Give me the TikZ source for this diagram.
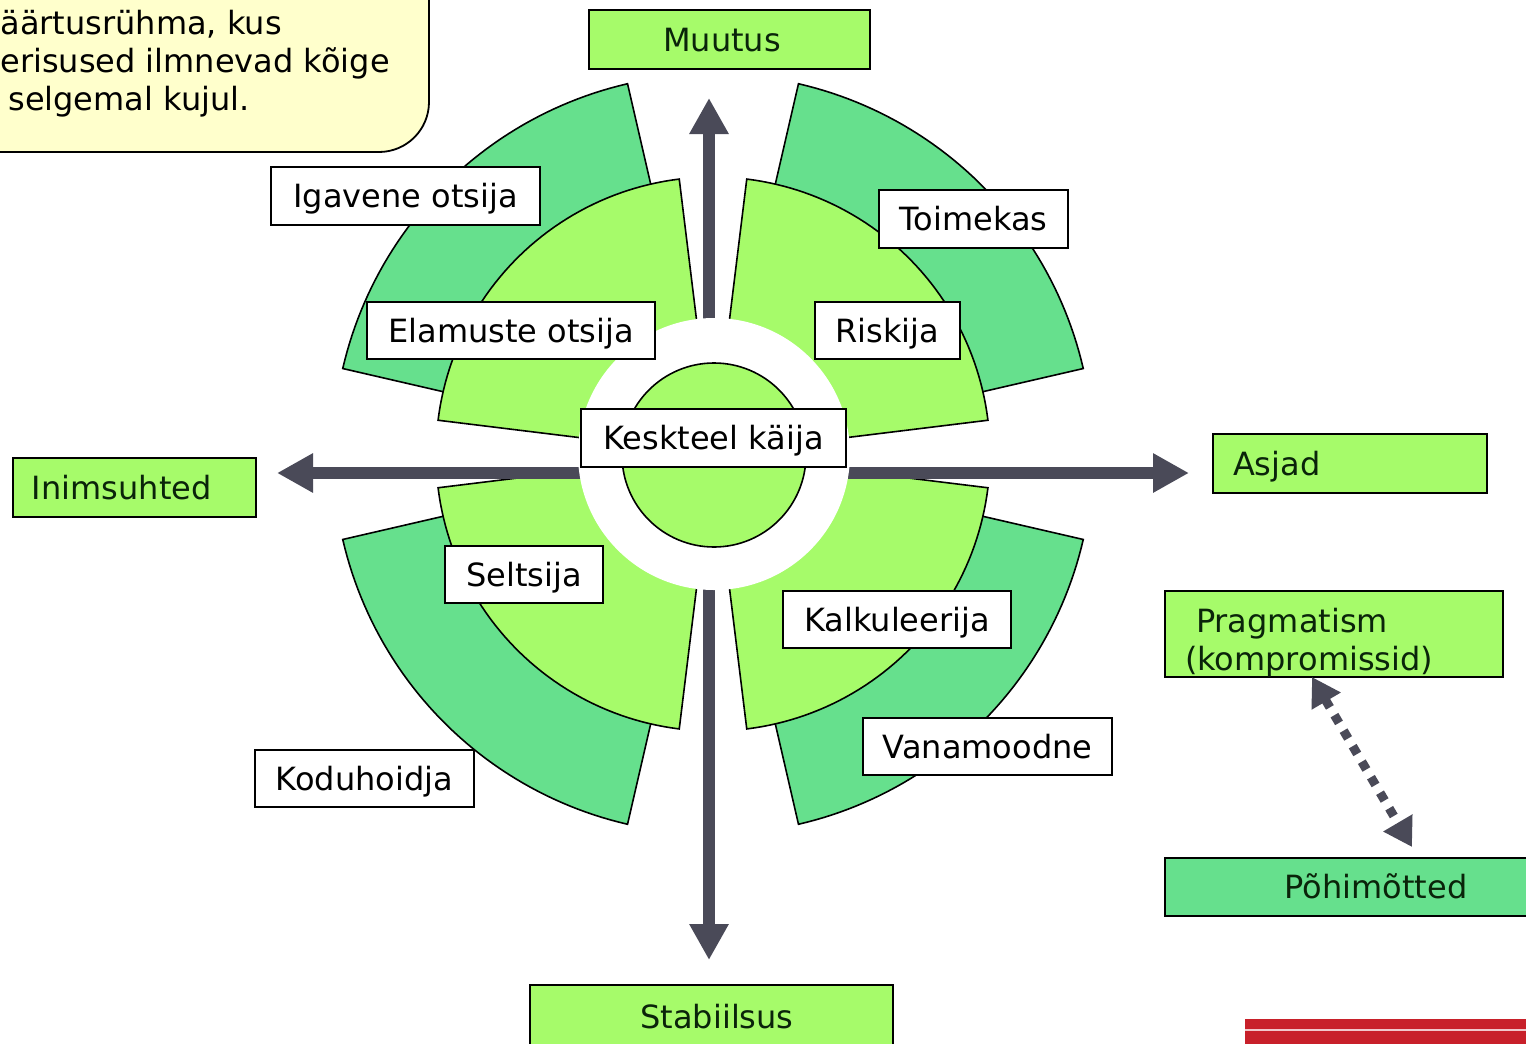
\documentclass[tikz,border=0pt]{standalone}
\usepackage{fontspec}
\setmainfont{DejaVu Sans}
\usetikzlibrary{arrows.meta}
\definecolor{lgreen}{RGB}{166,251,106}
\definecolor{dgreen}{RGB}{102,224,141}
\definecolor{cyellow}{RGB}{255,255,204}
\definecolor{agrey}{RGB}{74,74,88}
\definecolor{cred}{RGB}{200,32,42}
\definecolor{gtext}{RGB}{10,36,10}
\begin{document}
\begin{tikzpicture}[x=0.5pt,y=-0.5pt,
  font=\fontsize{16pt}{19pt}\selectfont,
  lbl/.style={draw=black, line width=0.9pt, fill=white, inner sep=0pt, text height=11.7pt, text depth=0pt},
  gbox/.style={draw=black, line width=0.9pt, fill=lgreen, text=gtext, inner sep=0pt, text height=11.7pt, text depth=0pt},
  sect/.style={draw=black, line width=0.8pt, line join=miter},
  axisarrow/.style={draw=agrey, line width=6pt, -{Triangle[length=18pt,width=18.5pt]}},
  duoarrow/.style={draw=agrey, line width=4.5pt, dash pattern=on 4.5pt off 4.5pt,
     {Triangle[length=14pt,width=16pt]}-{Triangle[length=14pt,width=16pt]}},
]
\useasboundingbox (0,0) rectangle (1526,1044);
\clip (0,0) rectangle (1526,1044);

% callout
\draw[fill=cyellow, line width=0.9pt, rounded corners=25pt] (-80,-80) rectangle (429,152);
\node[anchor=base west, align=left, inner sep=0pt] (callout) at (0,110)
  {äärtusrühma, kus\\erisused ilmnevad kõige\\\hspace*{4pt}selgemal kujul.};

% sectors
\coordinate (C) at (713,454);
\foreach \q [evaluate=\q as \oa using \q+13, evaluate=\q as \ob using \q+77] in {0,90,180,270}{
  \draw[sect, fill=dgreen] (C) -- plot[domain=\oa:\ob, samples=50] ({713+380*cos(\x)},{454+380*sin(\x)}) -- cycle;
}
\foreach \q [evaluate=\q as \ia using \q+7, evaluate=\q as \ib using \q+83] in {0,90,180,270}{
  \draw[sect, fill=lgreen] (C) -- plot[domain=\ia:\ib, samples=50] ({713+277*cos(\x)},{454+277*sin(\x)}) -- cycle;
}

% axis arrows
\coordinate (ov) at (709,454);
\coordinate (oh) at (713,473);
\coordinate (tN) at (709,98);
\coordinate (tS) at (709,960);
\coordinate (tW) at (277,473);
\coordinate (tE) at (1189,473);
\draw[axisarrow] (ov) -- (tN);
\draw[axisarrow] (ov) -- (tS);
\draw[axisarrow] (oh) -- (tW);
\draw[axisarrow] (oh) -- (tE);

% centre
\fill[white] (714,454) circle[radius=68pt];
\draw[fill=lgreen, line width=0.8pt] (714,455) circle[radius=46pt];

% labels
\node[lbl, minimum width=134.5pt, minimum height=29pt] (ig) at (405.5,196) {Igavene otsija};
\node[lbl, minimum width=144pt, minimum height=28.5pt] (el) at (511,330.5) {Elamuste otsija};
\node[lbl, minimum width=94.5pt, minimum height=29pt] (to) at (973.5,219) {Toimekas};
\node[lbl, minimum width=72.5pt, minimum height=28.5pt] (ri) at (887.5,330.5) {Riskija};
\node[lbl, minimum width=132.5pt, minimum height=29pt] (ke) at (713.5,438) {Keskteel käija};
\node[lbl, minimum width=79pt, minimum height=28.5pt] (se) at (524,574.5) {Seltsija};
\node[lbl, minimum width=114pt, minimum height=28.5pt] (ka) at (897,619.5) {Kalkuleerija};
\node[lbl, minimum width=124.5pt, minimum height=28.5pt] (va) at (987.5,746.5) {Vanamoodne};
\node[lbl, minimum width=109.5pt, minimum height=28.5pt] (ko) at (364.5,778.5) {Koduhoidja};

% axis boxes
\node[gbox, minimum width=140.5pt, minimum height=29.5pt] (mu) at (729.5,39.5) {\hspace*{-7.5pt}Muutus};
\node[gbox, minimum height=29.5pt, inner xsep=9.5pt, text width=102.5pt, align=left] (in) at (134.5,487.5) {Inimsuhted};
\node[gbox, minimum height=29.5pt, inner xsep=10pt, text width=117pt, align=left] (as) at (1350,463.5) {Asjad};
\node[gbox, minimum width=181.5pt, minimum height=31.5pt] (st) at (711.5,1016.5) {\hspace*{5.5pt}Stabiilsus};
\node[gbox, minimum height=43pt, inner xsep=10pt, text width=149pt, align=left, text height=11.7pt, text depth=13.3pt] (pr) at (1334,634) {\hspace*{5.5pt}Pragmatism\\(kompromissid)};
\node[gbox, fill=dgreen, minimum width=211pt, minimum height=29pt] (po) at (1376,887) {Põhimõtted};

% double dotted arrow
\coordinate (d1) at (1312,677);
\coordinate (d2) at (1412,847);
\draw[duoarrow] (d1) -- (d2);

% red banner fragment
\fill[cred] (1245,1019) rectangle (1560,1070);
\draw[white!75!cred, line width=1pt] (1245,1030) -- (1560,1030);
\end{tikzpicture}
\end{document}
